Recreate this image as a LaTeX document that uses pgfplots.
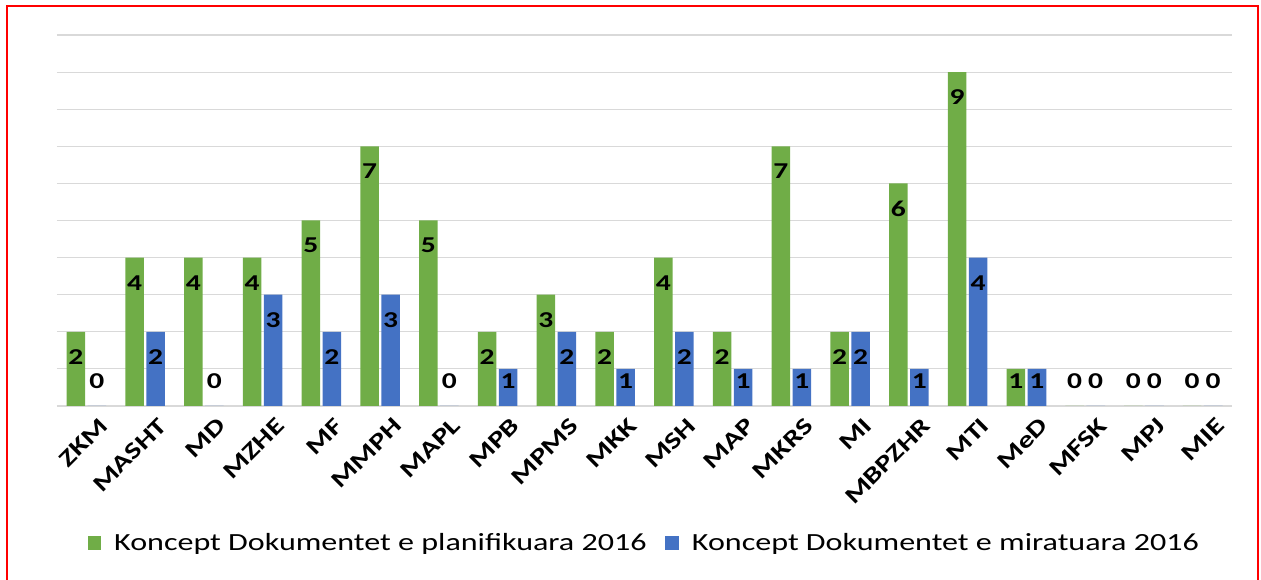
\documentclass[border=0pt]{standalone}
\usepackage{fontspec}
\setmainfont{Carlito}[FakeStretch=1.3]
\usepackage{pgfplots}
\usepackage{pgfplotstable}
\pgfplotsset{compat=1.18}

\definecolor{xlgreen}{HTML}{70AD47}
\definecolor{xlblue}{HTML}{4472C4}

% planned (g) and approved (b) concept documents 2016
\pgfplotstableread{
x name g b
0 ZKM 2 0
1 MASHT 4 2
2 MD 4 0
3 MZHE 4 3
4 MF 5 2
5 MMPH 7 3
6 MAPL 5 0
7 MPB 2 1
8 MPMS 3 2
9 MKK 2 1
10 MSH 4 2
11 MAP 2 1
12 MKRS 7 1
13 MI 2 2
14 MBPZHR 6 1
15 MTI 9 4
16 MeD 1 1
17 MFSK 0 0
18 MPJ 0 0
19 MIE 0 0
}\data

\begin{document}
\begin{tikzpicture}
\path[use as bounding box] (0,0) rectangle (945.75pt,-435pt);
\draw[red, line width=1.5pt] (5.25pt,-437pt) -- (5.25pt,-4.5pt) -- (943.2pt,-4.5pt) -- (943.2pt,-437pt);
\begin{axis}[
    at={(42.75pt,-304.5pt)}, anchor=south west,
    scale only axis, width=881.25pt, height=278.25pt,
    xmin=-0.5, xmax=19.5, ymin=0, ymax=10,
    xtick=data, xticklabels from table={\data}{name},
    ytick={0,1,...,10}, yticklabels={},
    major tick length=0pt,
    axis line style={draw=none},
    ymajorgrids, grid style={gray!30, line width=0.8pt},
    xticklabel style={rotate=45, anchor=north east, inner sep=1pt, yshift=-11pt, xshift=2pt,
        font=\fontsize{17.5}{19}\selectfont\bfseries},
    legend columns=2,
    legend style={at={(0.5,-0.369)}, anchor=center, draw=none,
        font=\fontsize{18.5}{21}\selectfont,
        /tikz/every odd column/.append style={column sep=8pt},
        /tikz/every even column/.append style={column sep=12pt}},
    legend image code/.code={\fill[#1] (0pt,-5pt) rectangle (10pt,5pt);},
    every node near coord/.append style={anchor=center, font=\fontsize{17}{19}\selectfont\bfseries, text=black},
]
\addplot[ybar, bar width=14pt, bar shift=-7.9pt, fill=xlgreen, draw=none]
    table[x=x, y=g] {\data};
\addlegendentry{Koncept Dokumentet e planifikuara 2016}
\addplot[ybar, bar width=14pt, bar shift=7.9pt, fill=xlblue, draw=none]
    table[x=x, y=b] {\data};
\addlegendentry{Koncept Dokumentet e miratuara 2016}
\addplot[draw=none, mark=none, nodes near coords, point meta=explicit symbolic, forget plot]
    table[x expr=\thisrow{x}-0.179, y expr={max(\thisrow{g}-0.68,0.67)}, meta=g] {\data};
\addplot[draw=none, mark=none, nodes near coords, point meta=explicit symbolic, forget plot]
    table[x expr=\thisrow{x}+0.179, y expr={max(\thisrow{b}-0.68,0.67)}, meta=b] {\data};
\end{axis}
\end{tikzpicture}
\end{document}
